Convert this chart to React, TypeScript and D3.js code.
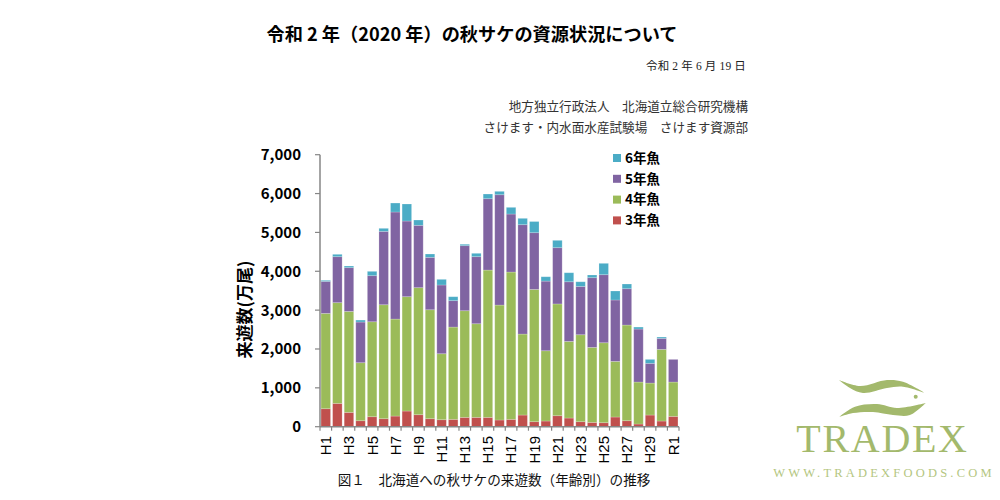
import * as React from "react";
import * as d3 from "d3";

const years = [
  "H1", "H2", "H3", "H4", "H5", "H6", "H7", "H8", "H9", "H10", "H11", "H12", "H13", "H14", "H15", "H16",
  "H17", "H18", "H19", "H20", "H21", "H22", "H23", "H24", "H25", "H26", "H27", "H28", "H29", "H30", "R1",
];
const age3 = [463, 600, 369, 154, 257, 206, 274, 403, 309, 206, 180, 189, 240, 240, 240, 172, 189, 300, 129, 146, 283, 223, 129, 111, 103, 249, 154, 69, 300, 146, 266];
const age4 = [2453, 2592, 2598, 1493, 2444, 2933, 2496, 2943, 3269, 2804, 1698, 2375, 2745, 2410, 3791, 2958, 3791, 2084, 3404, 1809, 2876, 1972, 2238, 1930, 2058, 1432, 2462, 1080, 823, 1844, 883];
const age5 = [824, 1184, 1126, 1046, 1186, 1888, 2755, 1947, 1604, 1348, 1769, 680, 1674, 1726, 1837, 2840, 1493, 2815, 1460, 1792, 1448, 1535, 1243, 1794, 1751, 1580, 935, 1364, 507, 283, 583];
const age6 = [27, 60, 42, 51, 111, 78, 231, 438, 137, 86, 145, 101, 36, 86, 120, 87, 172, 163, 287, 112, 189, 232, 120, 69, 292, 231, 121, 51, 102, 34, 0];

const seriesKeys = ["3年魚", "4年魚", "5年魚", "6年魚"];
const colors = ["#c0504d", "#9bbb59", "#8064a2", "#4bacc6"];
const yTicks = [0, 1000, 2000, 3000, 4000, 5000, 6000, 7000];
const xLabels = years.filter((_, i) => i % 2 === 0);

const sans = "'Noto Sans CJK JP', 'Noto Sans', sans-serif";
const serif = "'Liberation Serif', 'Noto Sans CJK JP', serif";

const rows = years.map((year, i) => ({
  year,
  "3年魚": age3[i],
  "4年魚": age4[i],
  "5年魚": age5[i],
  "6年魚": age6[i],
}));

// logo outlines
const waveTop: [number, number][][] = [
  [[839, 380], [860, 386], [887, 380], [903, 381.7], [925, 393]],
  [[925, 393], [903, 386.7], [887, 388], [863, 393], [850, 388], [839, 380]],
];
const waveBottom: [number, number][][] = [
  [[839, 417], [855, 406.7], [877, 404], [897, 408], [925.7, 403]],
  [[925.7, 403], [910, 415], [893, 415], [873, 412], [853, 413], [839, 417]],
];
const waveLine = d3.line().curve(d3.curveCatmullRom);
const wavePath = (w: [number, number][][]) => `${waveLine(w[0])}${(waveLine(w[1]) as string).replace("M", "L")}Z`;

const Logo = () => (
  <g>
    <path d={wavePath(waveTop)} fill="#a3b96c" />
    <path d={wavePath(waveBottom)} fill="#a3b96c" />
    <circle cx="915.7" cy="396.7" r="2" fill="#a3b96c" />
    <text x="882.5" y="452" textAnchor="middle" fontFamily="'Liberation Serif', serif" fontSize="40" letterSpacing="1.7" fill="#a3b96c">
      TRADEX
    </text>
    <text x="884" y="477" textAnchor="middle" fontFamily="'Liberation Serif', serif" fontSize="12.5" letterSpacing="3.2" fill="#b4c67f">
      WWW.TRADEXFOODS.COM
    </text>
  </g>
);

export default function App() {
  const x = d3.scaleBand().domain(years).range([320, 679]).paddingInner(0.18).paddingOuter(0.09);
  const y = d3.scaleLinear().domain([0, 7000]).range([426.7, 154.7]);
  const stacked = d3.stack<any>().keys(seriesKeys)(rows);
  const step = x.step();

  return (
    <svg width={1000} height={500} style={{ position: "absolute", left: 0, top: 0, background: "#fff" }}>
      <text x={472} y={41} textAnchor="middle" fontFamily={sans} fontWeight={700} fontSize={18.2}>
        令和 2 年（2020 年）の秋サケの資源状況について
      </text>
      <text x={746} y={70} textAnchor="end" fontFamily={serif} fontSize={11.5} letterSpacing={0.15} fill="#222">
        令和 2 年 6 月 19 日
      </text>
      <text x={748} y={111} textAnchor="end" fontFamily={serif} fontSize={12.6} fill="#333">
        地方独立行政法人　北海道立総合研究機構
      </text>
      <text x={748} y={132} textAnchor="end" fontFamily={serif} fontSize={12.6} fill="#333">
        さけます・内水面水産試験場　さけます資源部
      </text>

      {stacked.map((s, si) => (
        <g key={s.key}>
          {s.map((d, i) => (
            <rect
              key={years[i]}
              x={x(years[i])}
              y={y(d[1])}
              width={x.bandwidth()}
              height={Math.max(0, y(d[0]) - y(d[1]))}
              fill={colors[si]}
              stroke="#fff"
              strokeOpacity={0.25}
              strokeWidth={0.8}
            />
          ))}
        </g>
      ))}

      <line x1={320} x2={320} y1={y(7000)} y2={y(0)} stroke="#868686" strokeWidth={1.5} />
      <line x1={320} x2={679} y1={y(0)} y2={y(0)} stroke="#868686" strokeWidth={1.5} />
      {yTicks.map((t) => (
        <g key={t}>
          <line x1={315} x2={320} y1={y(t)} y2={y(t)} stroke="#868686" strokeWidth={1.2} />
          <text x={301} y={y(t)} dy="0.36em" textAnchor="end" fontFamily={sans} fontWeight={700} fontSize={15}>
            {d3.format(",")(t)}
          </text>
        </g>
      ))}
      {d3.range(years.length + 1).map((i) => (
        <line key={i} x1={320 + i * step} x2={320 + i * step} y1={y(0)} y2={y(0) + 4} stroke="#868686" strokeWidth={1.2} />
      ))}
      {xLabels.map((label) => (
        <text
          key={label}
          transform={`translate(${(x(label) as number) + x.bandwidth() / 2},436) rotate(-90)`}
          dy="0.36em"
          textAnchor="end"
          fontFamily="'Liberation Sans', sans-serif"
          fontSize={15}
        >
          {label}
        </text>
      ))}

      <text
        transform="translate(245,309.5) rotate(-90)"
        dy="0.36em"
        textAnchor="middle"
        fontFamily={sans}
        fontWeight={700}
        fontSize={17}
      >
        来遊数(万尾)
      </text>

      {[...seriesKeys].reverse().map((key, i) => (
        <g key={key} transform={`translate(613,${154 + i * 20.8})`}>
          <rect width={8} height={8} fill={colors[seriesKeys.indexOf(key)]} />
          <text x={12} y={4} dy="0.36em" fontFamily={sans} fontWeight={700} fontSize={13.5}>
            {key}
          </text>
        </g>
      ))}

      <text x={494} y={485} textAnchor="middle" fontFamily={sans} fontSize={13.6} fill="#111">
        図１　北海道への秋サケの来遊数（年齢別）の推移
      </text>
      <Logo />
    </svg>
  );
}
